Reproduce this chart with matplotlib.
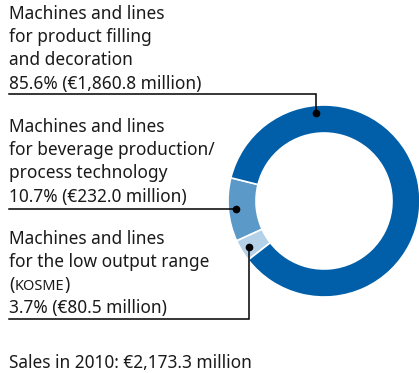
import matplotlib
matplotlib.use("Agg")
import matplotlib.pyplot as plt
import numpy as np

plt.rcParams['font.family'] = ['Noto Sans', 'DejaVu Sans']

# Sales by segment, 2010 (percent share and EUR million)
segments = ["Machines and lines\nfor beverage production/\nprocess technology",
            "Machines and lines\nfor the low output range",
            "Machines and lines\nfor product filling\nand decoration"]
shares = [10.7, 3.7, 85.6]
sales_meur = [232.0, 80.5, 1860.8]
total_label = "Sales in 2010: €2,173.3 million"
colors = ["#5b9ac8", "#b4d1e8", "#005fa8"]

W, H = 419, 373
fig = plt.figure(figsize=(W / 100, H / 100), dpi=100)
ax = fig.add_axes([0, 0, 1, 1])

cx, cy, R, ring = 324, H - 201, 96, 28
wedges, _ = ax.pie(shares, colors=colors, startangle=166, counterclock=True,
                   center=(cx, cy), radius=R,
                   wedgeprops=dict(width=ring, edgecolor="white", linewidth=1.2))
ax.set_xlim(0, W)
ax.set_ylim(0, H)
ax.set_aspect("equal")
ax.axis("off")

def fmt(share, val):
    return f"{share:.1f}% (€{val:,.1f} million)"

fs = 12.45
pitch = 23.2
ink = "#1a1a1a"
x0 = 9
r_dot = 88

def block(lines, base_y):
    for i, ln in enumerate(lines):
        ax.text(x0, H - (base_y + i * pitch), ln, fontsize=fs, color=ink,
                va="baseline", ha="left")

def dot_at(angle):
    a = np.deg2rad(angle)
    return cx + r_dot * np.cos(a), cy + r_dot * np.sin(a)

# product filling and decoration
block(segments[2].split("\n") + [fmt(shares[2], sales_meur[2])], 19)
dx, dy = dot_at(95)
ax.plot([x0, dx, dx], [H - 94, H - 94, dy], color="black", lw=1.1,
        solid_joinstyle="miter")
ax.plot(dx, dy, "o", color="black", ms=4.5)

# beverage production / process technology
block(segments[0].split("\n") + [fmt(shares[0], sales_meur[0])], 132)
w = wedges[0]
dx, dy = dot_at((w.theta1 + w.theta2) / 2)
ax.plot([x0, dx], [dy, dy], color="black", lw=1.1)
ax.plot(dx, dy, "o", color="black", ms=4.5)

# low output range (KOSME)
lines3 = segments[1].split("\n")
block(lines3, 243.5)
yk = H - (243.5 + 2 * pitch)
t = ax.text(x0, yk, "(", fontsize=fs, color=ink, va="baseline", ha="left")
fig.canvas.draw()
r = fig.canvas.get_renderer()
bb = t.get_window_extent(r)
t2 = ax.text(bb.x1 + 0.3, yk, "KOSME", fontsize=fs * 0.84, color=ink,
             va="baseline", ha="left")
bb2 = t2.get_window_extent(r)
ax.text(bb2.x1 + 0.3, yk, ")", fontsize=fs, color=ink, va="baseline", ha="left")
ax.text(x0, H - (243.5 + 3 * pitch), fmt(shares[1], sales_meur[1]),
        fontsize=fs, color=ink, va="baseline", ha="left")
w = wedges[1]
dx, dy = dot_at((w.theta1 + w.theta2) / 2)
ax.plot([dx, dx, x0], [dy, H - 318.5, H - 318.5], color="black", lw=1.1,
        solid_joinstyle="miter")
ax.plot(dx, dy, "o", color="black", ms=4.5)

ax.text(x0, H - 367.5, total_label, fontsize=fs, color=ink,
        va="baseline", ha="left")

fig.savefig("out.png", dpi=100)
